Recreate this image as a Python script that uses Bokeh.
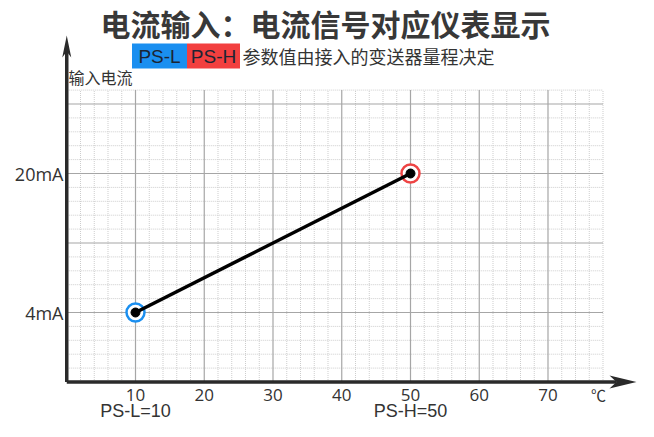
from bokeh.plotting import figure
from bokeh.models import Range1d
from bokeh.core.properties import value
from bokeh.embed import file_html
from bokeh.resources import INLINE

# ---- data ----
title_text = "电流输入：电流信号对应仪表显示"
subtitle_text = "参数值由接入的变送器量程决定"
y_axis_title = "输入电流"
x_unit = "℃"
x_tick_values = [10, 20, 30, 40, 50, 60, 70]
x_tick_labels = ["10", "20", "30", "40", "50", "60", "70"]
y_tick_values = [4, 20]
y_tick_labels = ["4mA", "20mA"]
line_x = [10, 50]
line_y = [4, 20]
ps_labels = ["PS-L=10", "PS-H=50"]
ps_values = [10, 50]
badge_labels = ["PS-L", "PS-H"]

# grid extent
grid_x_max = 78
grid_y_min = -4
grid_y_max = 29.6
major_y = [4, 12, 20, 28]
major_x = [10, 20, 30, 40, 50, 60, 70]
minor_x_step = 2
minor_y_step = 1.6

# ---- pixel -> data mapping (layout only) ----
W, H = 638, 421
PX_PER_X = 6.875
PX_PER_Y = 8.6875
X0_FIG = 66.25          # px of x=0
Y4_FIG = 312.0          # px (from top) of y=4
x_start = -X0_FIG / PX_PER_X
x_end = x_start + W / PX_PER_X
y_end = 4 + Y4_FIG / PX_PER_Y
y_start = y_end - H / PX_PER_Y


def px(pix_x):
    return x_start + pix_x / PX_PER_X


def py(pix_y):
    return y_end - pix_y / PX_PER_Y


p = figure(width=W, height=H, output_backend="svg", toolbar_location=None,
           x_range=Range1d(x_start, x_end), y_range=Range1d(y_start, y_end),
           min_border=0, outline_line_color=None)
p.axis.visible = False
p.grid.visible = False
p.background_fill_color = "white"

CJK = value("Noto Sans CJK SC")
TXT = "#333333"

# ---- grid ----
mx = []
v = minor_x_step
while v <= grid_x_max + 1e-9:
    if abs(v / 10 - round(v / 10)) > 1e-6:
        mx.append(v)
    v += minor_x_step
p.segment(x0=mx, y0=[grid_y_min] * len(mx), x1=mx, y1=[grid_y_max] * len(mx),
          line_color="#cdcdcd", line_width=1, line_dash="1 1")
my = []
v = grid_y_min + minor_y_step
while v <= grid_y_max + 1e-9:
    if all(abs(v - m) > 1e-6 for m in major_y):
        my.append(v)
    v += minor_y_step
p.segment(x0=[0] * len(my), y0=my, x1=[grid_x_max] * len(my), y1=my,
          line_color="#cdcdcd", line_width=1, line_dash="1 1")
p.segment(x0=major_x, y0=[grid_y_min] * len(major_x), x1=major_x,
          y1=[grid_y_max] * len(major_x), line_color="#a6a6a6", line_width=1.2)
p.segment(x0=[0] * len(major_y), y0=major_y, x1=[grid_x_max] * len(major_y),
          y1=major_y, line_color="#a6a6a6", line_width=1.2)

# ---- axes with arrows ----
AX = "#2a2a2a"
x_tip = px(636)
y_tip = py(35)
p.segment(x0=[0], y0=[grid_y_min], x1=[x_tip - 20 / PX_PER_X], y1=[grid_y_min],
          line_color=AX, line_width=3.5)
p.segment(x0=[0], y0=[grid_y_min], x1=[0], y1=[y_tip - 15 / PX_PER_Y],
          line_color=AX, line_width=3.5)
# x arrow head (stealth)
hx_len, hx_w, hx_notch = 27 / PX_PER_X, 6.5 / PX_PER_Y, 20 / PX_PER_X
p.patch([x_tip, x_tip - hx_len, x_tip - hx_notch, x_tip - hx_len],
        [grid_y_min, grid_y_min + hx_w, grid_y_min, grid_y_min - hx_w],
        color=AX, line_width=0)
hy_len, hy_w, hy_notch = 22 / PX_PER_Y, 4.5 / PX_PER_X, 16 / PX_PER_Y
p.patch([0, -hy_w, 0, hy_w],
        [y_tip, y_tip - hy_len, y_tip - hy_notch, y_tip - hy_len],
        color=AX, line_width=0)

# ---- data line & markers ----
ring_colors = ["#1a8ff0", "#ee4444"]
p.scatter(line_x, line_y, size=18, marker="circle", fill_color="white",
          line_color=ring_colors, line_width=2.5)
p.line(line_x, line_y, line_color="black", line_width=3.5)
p.scatter(line_x, line_y, size=9, marker="circle", color="black")

# ---- tick labels ----
p.text(x=x_tick_values, y=[py(394)] * len(x_tick_values), text=x_tick_labels,
       text_font=value("Open Sans"), text_font_size="17px", text_color=TXT,
       text_align="center", text_baseline="middle")
p.text(x=[px(598)], y=[py(394)], text=[x_unit], text_font=CJK,
       text_font_size="15px", text_color=TXT, text_align="center",
       text_baseline="middle")
p.text(x=[px(63)] * len(y_tick_values), y=y_tick_values, text=y_tick_labels,
       text_font=value("Open Sans"), text_font_size="18px", text_color=TXT,
       text_align="right", text_baseline="middle")
p.text(x=ps_values, y=[py(410)] * len(ps_values), text=ps_labels,
       text_font=value("Liberation Sans"), text_font_size="18px", text_color=TXT,
       text_align="center", text_baseline="middle")

# ---- titles ----
p.text(x=[px(325)], y=[py(22)], text=[title_text], text_font=CJK,
       text_font_size="30px", text_font_style="bold", text_color="#383838",
       text_align="center", text_baseline="middle")
p.text(x=[px(242)], y=[py(55)], text=[subtitle_text], text_font=CJK,
       text_font_size="18px", text_color=TXT, text_align="left",
       text_baseline="middle")
p.text(x=[px(68)], y=[py(76)], text=[y_axis_title], text_font=CJK,
       text_font_size="16px", text_color=TXT, text_align="left",
       text_baseline="middle")

# badges
badge_left = [px(131.5), px(186.5)]
badge_right = [px(186.5), px(239.5)]
p.quad(left=badge_left, right=badge_right, top=[py(43)] * 2, bottom=[py(68)] * 2,
       fill_color=["#1a8ff0", "#f23f3f"], line_color=None)
p.text(x=[(a + b) / 2 for a, b in zip(badge_left, badge_right)],
       y=[py(56)] * 2, text=badge_labels, text_font=value("Liberation Sans"),
       text_font_size="19px", text_color="#1c2433", text_align="center",
       text_baseline="middle")

open("out.html", "w").write(file_html(p, INLINE))
